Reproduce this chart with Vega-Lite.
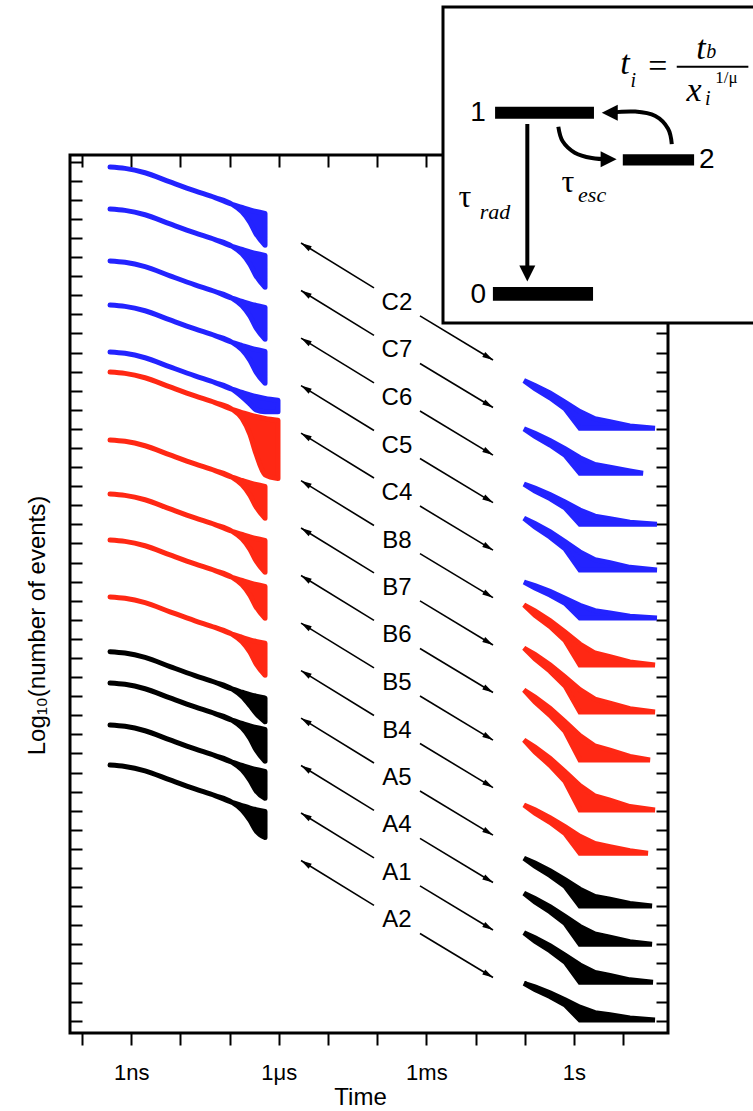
{
"$schema":"https://vega.github.io/schema/vega-lite/v6.json",
"width":598,"height":878,"autosize":"none",
"padding":{"left":70,"top":155,"right":85,"bottom":78},
"background":"white",
"config":{"view":{"stroke":"black","strokeWidth":3},"font":"Liberation Sans",
 "axis":{"domain":false,"grid":false,"tickColor":"black","tickWidth":2,"labelFont":"Liberation Sans","titleFont":"Liberation Sans","labelColor":"black","titleColor":"black","titleFontWeight":"normal"}},
"datasets":{
"left":[
{"s":"C2","g":"C","t":3.71e-10,"y":44.72,"y2":44.72},{"s":"C2","g":"C","t":7.48e-10,"y":44.65,"y2":44.65},{"s":"C2","g":"C","t":1.91e-9,"y":44.42,"y2":44.42},{"s":"C2","g":"C","t":6.15e-9,"y":43.94,"y2":43.94},{"s":"C2","g":"C","t":1.98e-8,"y":43.47,"y2":43.47},{"s":"C2","g":"C","t":5.05e-8,"y":43.12,"y2":43.12},{"s":"C2","g":"C","t":1.12e-7,"y":42.77,"y2":42.77},{"s":"C2","g":"C","t":1.79e-7,"y":42.60,"y2":42.37},{"s":"C2","g":"C","t":2.60e-7,"y":42.47,"y2":41.82},{"s":"C2","g":"C","t":3.44e-7,"y":42.39,"y2":41.22},{"s":"C2","g":"C","t":5.25e-7,"y":42.29,"y2":40.62},
{"s":"C7","g":"C","t":3.71e-10,"y":42.52,"y2":42.52},{"s":"C7","g":"C","t":7.48e-10,"y":42.45,"y2":42.45},{"s":"C7","g":"C","t":1.91e-9,"y":42.22,"y2":42.22},{"s":"C7","g":"C","t":6.15e-9,"y":41.74,"y2":41.74},{"s":"C7","g":"C","t":1.98e-8,"y":41.27,"y2":41.27},{"s":"C7","g":"C","t":5.05e-8,"y":40.92,"y2":40.92},{"s":"C7","g":"C","t":1.12e-7,"y":40.57,"y2":40.57},{"s":"C7","g":"C","t":1.79e-7,"y":40.40,"y2":40.17},{"s":"C7","g":"C","t":2.60e-7,"y":40.27,"y2":39.62},{"s":"C7","g":"C","t":3.44e-7,"y":40.19,"y2":39.02},{"s":"C7","g":"C","t":5.25e-7,"y":40.09,"y2":38.42},
{"s":"C6","g":"C","t":3.71e-10,"y":39.80,"y2":39.80},{"s":"C6","g":"C","t":7.48e-10,"y":39.73,"y2":39.73},{"s":"C6","g":"C","t":1.91e-9,"y":39.50,"y2":39.50},{"s":"C6","g":"C","t":6.15e-9,"y":39.02,"y2":39.02},{"s":"C6","g":"C","t":1.98e-8,"y":38.55,"y2":38.55},{"s":"C6","g":"C","t":5.05e-8,"y":38.20,"y2":38.20},{"s":"C6","g":"C","t":1.12e-7,"y":37.85,"y2":37.85},{"s":"C6","g":"C","t":1.79e-7,"y":37.68,"y2":37.45},{"s":"C6","g":"C","t":2.60e-7,"y":37.55,"y2":36.90},{"s":"C6","g":"C","t":3.44e-7,"y":37.47,"y2":36.30},{"s":"C6","g":"C","t":5.25e-7,"y":37.37,"y2":35.70},
{"s":"C5","g":"C","t":3.71e-10,"y":37.49,"y2":37.49},{"s":"C5","g":"C","t":7.48e-10,"y":37.42,"y2":37.42},{"s":"C5","g":"C","t":1.91e-9,"y":37.19,"y2":37.19},{"s":"C5","g":"C","t":6.15e-9,"y":36.71,"y2":36.71},{"s":"C5","g":"C","t":1.98e-8,"y":36.24,"y2":36.24},{"s":"C5","g":"C","t":5.05e-8,"y":35.89,"y2":35.89},{"s":"C5","g":"C","t":1.12e-7,"y":35.54,"y2":35.54},{"s":"C5","g":"C","t":1.79e-7,"y":35.37,"y2":35.14},{"s":"C5","g":"C","t":2.60e-7,"y":35.24,"y2":34.59},{"s":"C5","g":"C","t":3.44e-7,"y":35.16,"y2":33.99},{"s":"C5","g":"C","t":5.25e-7,"y":35.06,"y2":33.39},
{"s":"C4","g":"C","t":3.71e-10,"y":35.03,"y2":35.03},{"s":"C4","g":"C","t":7.48e-10,"y":34.96,"y2":34.96},{"s":"C4","g":"C","t":1.91e-9,"y":34.73,"y2":34.73},{"s":"C4","g":"C","t":6.15e-9,"y":34.25,"y2":34.25},{"s":"C4","g":"C","t":1.98e-8,"y":33.78,"y2":33.78},{"s":"C4","g":"C","t":5.05e-8,"y":33.43,"y2":33.43},{"s":"C4","g":"C","t":1.12e-7,"y":33.08,"y2":33.08},{"s":"C4","g":"C","t":1.79e-7,"y":32.91,"y2":32.68},{"s":"C4","g":"C","t":2.60e-7,"y":32.78,"y2":32.30},{"s":"C4","g":"C","t":3.44e-7,"y":32.70,"y2":32.00},{"s":"C4","g":"C","t":5.25e-7,"y":32.60,"y2":31.90},{"s":"C4","g":"C","t":9.63e-7,"y":32.50,"y2":31.90},
{"s":"B8","g":"B","t":3.71e-10,"y":33.98,"y2":33.98},{"s":"B8","g":"B","t":7.48e-10,"y":33.91,"y2":33.91},{"s":"B8","g":"B","t":1.91e-9,"y":33.68,"y2":33.68},{"s":"B8","g":"B","t":6.15e-9,"y":33.20,"y2":33.20},{"s":"B8","g":"B","t":1.98e-8,"y":32.73,"y2":32.73},{"s":"B8","g":"B","t":5.05e-8,"y":32.38,"y2":32.38},{"s":"B8","g":"B","t":1.12e-7,"y":32.03,"y2":32.03},{"s":"B8","g":"B","t":1.79e-7,"y":31.86,"y2":31.55},{"s":"B8","g":"B","t":2.60e-7,"y":31.73,"y2":30.70},{"s":"B8","g":"B","t":3.44e-7,"y":31.65,"y2":29.70},{"s":"B8","g":"B","t":5.25e-7,"y":31.55,"y2":28.60},{"s":"B8","g":"B","t":9.63e-7,"y":31.45,"y2":28.40},
{"s":"B7","g":"B","t":3.71e-10,"y":30.42,"y2":30.42},{"s":"B7","g":"B","t":7.48e-10,"y":30.35,"y2":30.35},{"s":"B7","g":"B","t":1.91e-9,"y":30.12,"y2":30.12},{"s":"B7","g":"B","t":6.15e-9,"y":29.64,"y2":29.64},{"s":"B7","g":"B","t":1.98e-8,"y":29.17,"y2":29.17},{"s":"B7","g":"B","t":5.05e-8,"y":28.82,"y2":28.82},{"s":"B7","g":"B","t":1.12e-7,"y":28.47,"y2":28.47},{"s":"B7","g":"B","t":1.79e-7,"y":28.30,"y2":28.07},{"s":"B7","g":"B","t":2.60e-7,"y":28.17,"y2":27.52},{"s":"B7","g":"B","t":3.44e-7,"y":28.09,"y2":26.92},{"s":"B7","g":"B","t":5.25e-7,"y":27.99,"y2":26.32},
{"s":"B6","g":"B","t":3.71e-10,"y":27.59,"y2":27.59},{"s":"B6","g":"B","t":7.48e-10,"y":27.52,"y2":27.52},{"s":"B6","g":"B","t":1.91e-9,"y":27.29,"y2":27.29},{"s":"B6","g":"B","t":6.15e-9,"y":26.81,"y2":26.81},{"s":"B6","g":"B","t":1.98e-8,"y":26.34,"y2":26.34},{"s":"B6","g":"B","t":5.05e-8,"y":25.99,"y2":25.99},{"s":"B6","g":"B","t":1.12e-7,"y":25.64,"y2":25.64},{"s":"B6","g":"B","t":1.79e-7,"y":25.47,"y2":25.24},{"s":"B6","g":"B","t":2.60e-7,"y":25.34,"y2":24.69},{"s":"B6","g":"B","t":3.44e-7,"y":25.26,"y2":24.09},{"s":"B6","g":"B","t":5.25e-7,"y":25.16,"y2":23.49},
{"s":"B5","g":"B","t":3.71e-10,"y":25.18,"y2":25.18},{"s":"B5","g":"B","t":7.48e-10,"y":25.11,"y2":25.11},{"s":"B5","g":"B","t":1.91e-9,"y":24.88,"y2":24.88},{"s":"B5","g":"B","t":6.15e-9,"y":24.40,"y2":24.40},{"s":"B5","g":"B","t":1.98e-8,"y":23.93,"y2":23.93},{"s":"B5","g":"B","t":5.05e-8,"y":23.58,"y2":23.58},{"s":"B5","g":"B","t":1.12e-7,"y":23.23,"y2":23.23},{"s":"B5","g":"B","t":1.79e-7,"y":23.06,"y2":22.83},{"s":"B5","g":"B","t":2.60e-7,"y":22.93,"y2":22.28},{"s":"B5","g":"B","t":3.44e-7,"y":22.85,"y2":21.68},{"s":"B5","g":"B","t":5.25e-7,"y":22.75,"y2":21.08},
{"s":"B4","g":"B","t":3.71e-10,"y":22.20,"y2":22.20},{"s":"B4","g":"B","t":7.48e-10,"y":22.13,"y2":22.13},{"s":"B4","g":"B","t":1.91e-9,"y":21.90,"y2":21.90},{"s":"B4","g":"B","t":6.15e-9,"y":21.42,"y2":21.42},{"s":"B4","g":"B","t":1.98e-8,"y":20.95,"y2":20.95},{"s":"B4","g":"B","t":5.05e-8,"y":20.60,"y2":20.60},{"s":"B4","g":"B","t":1.12e-7,"y":20.25,"y2":20.25},{"s":"B4","g":"B","t":1.79e-7,"y":20.08,"y2":19.85},{"s":"B4","g":"B","t":2.60e-7,"y":19.95,"y2":19.30},{"s":"B4","g":"B","t":3.44e-7,"y":19.87,"y2":18.70},{"s":"B4","g":"B","t":5.25e-7,"y":19.77,"y2":18.10},
{"s":"A5","g":"A","t":3.71e-10,"y":19.33,"y2":19.33},{"s":"A5","g":"A","t":7.48e-10,"y":19.26,"y2":19.26},{"s":"A5","g":"A","t":1.91e-9,"y":19.03,"y2":19.03},{"s":"A5","g":"A","t":6.15e-9,"y":18.55,"y2":18.55},{"s":"A5","g":"A","t":1.98e-8,"y":18.08,"y2":18.08},{"s":"A5","g":"A","t":5.05e-8,"y":17.73,"y2":17.73},{"s":"A5","g":"A","t":1.12e-7,"y":17.38,"y2":17.38},{"s":"A5","g":"A","t":1.79e-7,"y":17.21,"y2":16.98},{"s":"A5","g":"A","t":2.60e-7,"y":17.08,"y2":16.50},{"s":"A5","g":"A","t":3.44e-7,"y":17.00,"y2":16.10},{"s":"A5","g":"A","t":5.25e-7,"y":16.90,"y2":15.66},
{"s":"A4","g":"A","t":3.71e-10,"y":17.69,"y2":17.69},{"s":"A4","g":"A","t":7.48e-10,"y":17.62,"y2":17.62},{"s":"A4","g":"A","t":1.91e-9,"y":17.39,"y2":17.39},{"s":"A4","g":"A","t":6.15e-9,"y":16.91,"y2":16.91},{"s":"A4","g":"A","t":1.98e-8,"y":16.44,"y2":16.44},{"s":"A4","g":"A","t":5.05e-8,"y":16.09,"y2":16.09},{"s":"A4","g":"A","t":1.12e-7,"y":15.74,"y2":15.74},{"s":"A4","g":"A","t":1.79e-7,"y":15.57,"y2":15.34},{"s":"A4","g":"A","t":2.60e-7,"y":15.44,"y2":14.79},{"s":"A4","g":"A","t":3.44e-7,"y":15.36,"y2":14.19},{"s":"A4","g":"A","t":5.25e-7,"y":15.26,"y2":13.59},
{"s":"A1","g":"A","t":3.71e-10,"y":15.49,"y2":15.49},{"s":"A1","g":"A","t":7.48e-10,"y":15.42,"y2":15.42},{"s":"A1","g":"A","t":1.91e-9,"y":15.19,"y2":15.19},{"s":"A1","g":"A","t":6.15e-9,"y":14.71,"y2":14.71},{"s":"A1","g":"A","t":1.98e-8,"y":14.24,"y2":14.24},{"s":"A1","g":"A","t":5.05e-8,"y":13.89,"y2":13.89},{"s":"A1","g":"A","t":1.12e-7,"y":13.54,"y2":13.54},{"s":"A1","g":"A","t":1.79e-7,"y":13.37,"y2":13.14},{"s":"A1","g":"A","t":2.60e-7,"y":13.24,"y2":12.59},{"s":"A1","g":"A","t":3.44e-7,"y":13.16,"y2":12.05},{"s":"A1","g":"A","t":5.25e-7,"y":13.06,"y2":11.65},
{"s":"A2","g":"A","t":3.71e-10,"y":13.39,"y2":13.39},{"s":"A2","g":"A","t":7.48e-10,"y":13.32,"y2":13.32},{"s":"A2","g":"A","t":1.91e-9,"y":13.09,"y2":13.09},{"s":"A2","g":"A","t":6.15e-9,"y":12.61,"y2":12.61},{"s":"A2","g":"A","t":1.98e-8,"y":12.14,"y2":12.14},{"s":"A2","g":"A","t":5.05e-8,"y":11.79,"y2":11.79},{"s":"A2","g":"A","t":1.12e-7,"y":11.44,"y2":11.44},{"s":"A2","g":"A","t":1.79e-7,"y":11.27,"y2":11.04},{"s":"A2","g":"A","t":2.60e-7,"y":11.14,"y2":10.49},{"s":"A2","g":"A","t":3.44e-7,"y":11.06,"y2":9.95},{"s":"A2","g":"A","t":5.25e-7,"y":10.96,"y2":9.60}
],
"right":[
{"s":"C2","g":"C","t":0.0964,"y":33.53,"y2":33.53},{"s":"C2","g":"C","t":0.161,"y":33.28,"y2":33.11},{"s":"C2","g":"C","t":0.325,"y":32.88,"y2":32.63},{"s":"C2","g":"C","t":0.656,"y":32.41,"y2":32.06},{"s":"C2","g":"C","t":1.32,"y":31.91,"y2":31.03},{"s":"C2","g":"C","t":2.67,"y":31.53,"y2":31.03},{"s":"C2","g":"C","t":5.39,"y":31.38,"y2":31.03},{"s":"C2","g":"C","t":13.7,"y":31.16,"y2":31.03},{"s":"C2","g":"C","t":44.3,"y":31.03,"y2":31.03},
{"s":"C7","g":"C","t":0.0964,"y":31.00,"y2":31.00},{"s":"C7","g":"C","t":0.161,"y":30.77,"y2":30.61},{"s":"C7","g":"C","t":0.325,"y":30.40,"y2":30.16},{"s":"C7","g":"C","t":0.656,"y":29.96,"y2":29.63},{"s":"C7","g":"C","t":1.32,"y":29.49,"y2":28.68},{"s":"C7","g":"C","t":2.67,"y":29.14,"y2":28.68},{"s":"C7","g":"C","t":5.39,"y":29.00,"y2":28.68},{"s":"C7","g":"C","t":13.7,"y":28.80,"y2":28.68},{"s":"C7","g":"C","t":25.3,"y":28.68,"y2":28.68},
{"s":"C6","g":"C","t":0.0964,"y":28.11,"y2":28.11},{"s":"C6","g":"C","t":0.161,"y":27.90,"y2":27.75},{"s":"C6","g":"C","t":0.325,"y":27.56,"y2":27.35},{"s":"C6","g":"C","t":0.656,"y":27.17,"y2":26.87},{"s":"C6","g":"C","t":1.32,"y":26.75,"y2":26.01},{"s":"C6","g":"C","t":2.67,"y":26.43,"y2":26.01},{"s":"C6","g":"C","t":5.39,"y":26.30,"y2":26.01},{"s":"C6","g":"C","t":13.7,"y":26.11,"y2":26.01},{"s":"C6","g":"C","t":48.6,"y":26.01,"y2":26.01},
{"s":"C5","g":"C","t":0.0964,"y":26.32,"y2":26.32},{"s":"C5","g":"C","t":0.161,"y":26.05,"y2":25.86},{"s":"C5","g":"C","t":0.325,"y":25.62,"y2":25.34},{"s":"C5","g":"C","t":0.656,"y":25.10,"y2":24.72},{"s":"C5","g":"C","t":1.32,"y":24.56,"y2":23.61},{"s":"C5","g":"C","t":2.67,"y":24.15,"y2":23.61},{"s":"C5","g":"C","t":5.39,"y":23.99,"y2":23.61},{"s":"C5","g":"C","t":13.7,"y":23.75,"y2":23.61},{"s":"C5","g":"C","t":48.6,"y":23.61,"y2":23.61},
{"s":"C4","g":"C","t":0.0964,"y":22.98,"y2":22.98},{"s":"C4","g":"C","t":0.161,"y":22.79,"y2":22.66},{"s":"C4","g":"C","t":0.325,"y":22.49,"y2":22.30},{"s":"C4","g":"C","t":0.656,"y":22.13,"y2":21.87},{"s":"C4","g":"C","t":1.32,"y":21.76,"y2":21.10},{"s":"C4","g":"C","t":2.67,"y":21.48,"y2":21.10},{"s":"C4","g":"C","t":5.39,"y":21.36,"y2":21.10},{"s":"C4","g":"C","t":13.7,"y":21.19,"y2":21.10},{"s":"C4","g":"C","t":48.6,"y":21.10,"y2":21.10},
{"s":"B8","g":"B","t":0.0964,"y":21.78,"y2":21.78},{"s":"B8","g":"B","t":0.161,"y":21.47,"y2":21.24},{"s":"B8","g":"B","t":0.325,"y":20.96,"y2":20.65},{"s":"B8","g":"B","t":0.656,"y":20.36,"y2":19.92},{"s":"B8","g":"B","t":1.32,"y":19.73,"y2":18.63},{"s":"B8","g":"B","t":2.67,"y":19.26,"y2":18.63},{"s":"B8","g":"B","t":5.39,"y":19.07,"y2":18.63},{"s":"B8","g":"B","t":13.7,"y":18.79,"y2":18.63},{"s":"B8","g":"B","t":44.3,"y":18.63,"y2":18.63},
{"s":"B7","g":"B","t":0.0964,"y":19.52,"y2":19.52},{"s":"B7","g":"B","t":0.161,"y":19.19,"y2":18.95},{"s":"B7","g":"B","t":0.325,"y":18.65,"y2":18.31},{"s":"B7","g":"B","t":0.656,"y":18.01,"y2":17.54},{"s":"B7","g":"B","t":1.32,"y":17.34,"y2":16.17},{"s":"B7","g":"B","t":2.67,"y":16.84,"y2":16.17},{"s":"B7","g":"B","t":5.39,"y":16.64,"y2":16.17},{"s":"B7","g":"B","t":13.7,"y":16.34,"y2":16.17},{"s":"B7","g":"B","t":44.3,"y":16.17,"y2":16.17},
{"s":"B6","g":"B","t":0.0964,"y":17.32,"y2":17.32},{"s":"B6","g":"B","t":0.161,"y":16.95,"y2":16.70},{"s":"B6","g":"B","t":0.325,"y":16.37,"y2":16.00},{"s":"B6","g":"B","t":0.656,"y":15.67,"y2":15.16},{"s":"B6","g":"B","t":1.32,"y":14.94,"y2":13.66},{"s":"B6","g":"B","t":2.67,"y":14.39,"y2":13.66},{"s":"B6","g":"B","t":5.39,"y":14.17,"y2":13.66},{"s":"B6","g":"B","t":13.7,"y":13.84,"y2":13.66},{"s":"B6","g":"B","t":35.1,"y":13.66,"y2":13.66},
{"s":"B5","g":"B","t":0.0964,"y":14.70,"y2":14.70},{"s":"B5","g":"B","t":0.161,"y":14.33,"y2":14.08},{"s":"B5","g":"B","t":0.325,"y":13.75,"y2":13.38},{"s":"B5","g":"B","t":0.656,"y":13.05,"y2":12.54},{"s":"B5","g":"B","t":1.32,"y":12.32,"y2":11.04},{"s":"B5","g":"B","t":2.67,"y":11.77,"y2":11.04},{"s":"B5","g":"B","t":5.39,"y":11.55,"y2":11.04},{"s":"B5","g":"B","t":13.7,"y":11.22,"y2":11.04},{"s":"B5","g":"B","t":44.3,"y":11.04,"y2":11.04},
{"s":"B4","g":"B","t":0.0964,"y":11.30,"y2":11.30},{"s":"B4","g":"B","t":0.161,"y":11.05,"y2":10.87},{"s":"B4","g":"B","t":0.325,"y":10.64,"y2":10.39},{"s":"B4","g":"B","t":0.656,"y":10.16,"y2":9.81},{"s":"B4","g":"B","t":1.32,"y":9.66,"y2":8.77},{"s":"B4","g":"B","t":2.67,"y":9.28,"y2":8.77},{"s":"B4","g":"B","t":5.39,"y":9.12,"y2":8.77},{"s":"B4","g":"B","t":13.7,"y":8.90,"y2":8.77},{"s":"B4","g":"B","t":31.9,"y":8.77,"y2":8.77},
{"s":"A5","g":"A","t":0.0964,"y":8.51,"y2":8.51},{"s":"A5","g":"A","t":0.161,"y":8.26,"y2":8.09},{"s":"A5","g":"A","t":0.325,"y":7.86,"y2":7.61},{"s":"A5","g":"A","t":0.656,"y":7.39,"y2":7.04},{"s":"A5","g":"A","t":1.32,"y":6.89,"y2":6.01},{"s":"A5","g":"A","t":2.67,"y":6.51,"y2":6.01},{"s":"A5","g":"A","t":5.39,"y":6.36,"y2":6.01},{"s":"A5","g":"A","t":13.7,"y":6.14,"y2":6.01},{"s":"A5","g":"A","t":38.5,"y":6.01,"y2":6.01},
{"s":"A4","g":"A","t":0.0964,"y":6.67,"y2":6.67},{"s":"A4","g":"A","t":0.161,"y":6.40,"y2":6.22},{"s":"A4","g":"A","t":0.325,"y":5.98,"y2":5.71},{"s":"A4","g":"A","t":0.656,"y":5.47,"y2":5.10},{"s":"A4","g":"A","t":1.32,"y":4.94,"y2":4.01},{"s":"A4","g":"A","t":2.67,"y":4.54,"y2":4.01},{"s":"A4","g":"A","t":5.39,"y":4.38,"y2":4.01},{"s":"A4","g":"A","t":13.7,"y":4.14,"y2":4.01},{"s":"A4","g":"A","t":38.5,"y":4.01,"y2":4.01},
{"s":"A1","g":"A","t":0.0964,"y":4.61,"y2":4.61},{"s":"A1","g":"A","t":0.161,"y":4.35,"y2":4.17},{"s":"A1","g":"A","t":0.325,"y":3.93,"y2":3.67},{"s":"A1","g":"A","t":0.656,"y":3.44,"y2":3.08},{"s":"A1","g":"A","t":1.32,"y":2.92,"y2":2.01},{"s":"A1","g":"A","t":2.67,"y":2.53,"y2":2.01},{"s":"A1","g":"A","t":5.39,"y":2.37,"y2":2.01},{"s":"A1","g":"A","t":13.7,"y":2.14,"y2":2.01},{"s":"A1","g":"A","t":40.3,"y":2.01,"y2":2.01},
{"s":"A2","g":"A","t":0.0964,"y":1.96,"y2":1.96},{"s":"A2","g":"A","t":0.161,"y":1.77,"y2":1.63},{"s":"A2","g":"A","t":0.325,"y":1.46,"y2":1.27},{"s":"A2","g":"A","t":0.656,"y":1.10,"y2":0.83},{"s":"A2","g":"A","t":1.32,"y":0.71,"y2":0.04},{"s":"A2","g":"A","t":2.67,"y":0.42,"y2":0.04},{"s":"A2","g":"A","t":5.39,"y":0.31,"y2":0.04},{"s":"A2","g":"A","t":13.7,"y":0.14,"y2":0.04},{"s":"A2","g":"A","t":44.3,"y":0.04,"y2":0.04}
],
"labels":[
{"s":"C2","t":2.52e-4,"y":37.60},{"s":"C7","t":2.52e-4,"y":35.11},{"s":"C6","t":2.52e-4,"y":32.62},{"s":"C5","t":2.52e-4,"y":30.13},{"s":"C4","t":2.52e-4,"y":27.64},{"s":"B8","t":2.52e-4,"y":25.15},{"s":"B7","t":2.52e-4,"y":22.67},{"s":"B6","t":2.52e-4,"y":20.18},{"s":"B5","t":2.52e-4,"y":17.69},{"s":"B4","t":2.52e-4,"y":15.20},{"s":"A5","t":2.52e-4,"y":12.71},{"s":"A4","t":2.52e-4,"y":10.23},{"s":"A1","t":2.52e-4,"y":7.74},{"s":"A2","t":2.52e-4,"y":5.25}
],
"arrows":[
{"d":"L","t":8.61e-5,"y":38.39,"t2":2.83e-6,"y2":40.74},{"d":"R","t":7.41e-4,"y":36.92,"t2":0.0226,"y2":34.61},
{"d":"L","t":8.61e-5,"y":35.90,"t2":2.83e-6,"y2":38.25},{"d":"R","t":7.41e-4,"y":34.43,"t2":0.0226,"y2":32.12},
{"d":"L","t":8.61e-5,"y":33.41,"t2":2.83e-6,"y2":35.76},{"d":"R","t":7.41e-4,"y":31.94,"t2":0.0226,"y2":29.63},
{"d":"L","t":8.61e-5,"y":30.92,"t2":2.83e-6,"y2":33.27},{"d":"R","t":7.41e-4,"y":29.45,"t2":0.0226,"y2":27.14},
{"d":"L","t":8.61e-5,"y":28.43,"t2":2.83e-6,"y2":30.78},{"d":"R","t":7.41e-4,"y":26.96,"t2":0.0226,"y2":24.65},
{"d":"L","t":8.61e-5,"y":25.94,"t2":2.83e-6,"y2":28.29},{"d":"R","t":7.41e-4,"y":24.47,"t2":0.0226,"y2":22.16},
{"d":"L","t":8.61e-5,"y":23.46,"t2":2.83e-6,"y2":25.81},{"d":"R","t":7.41e-4,"y":21.99,"t2":0.0226,"y2":19.68},
{"d":"L","t":8.61e-5,"y":20.97,"t2":2.83e-6,"y2":23.32},{"d":"R","t":7.41e-4,"y":19.50,"t2":0.0226,"y2":17.19},
{"d":"L","t":8.61e-5,"y":18.48,"t2":2.83e-6,"y2":20.83},{"d":"R","t":7.41e-4,"y":17.01,"t2":0.0226,"y2":14.70},
{"d":"L","t":8.61e-5,"y":15.99,"t2":2.83e-6,"y2":18.34},{"d":"R","t":7.41e-4,"y":14.52,"t2":0.0226,"y2":12.21},
{"d":"L","t":8.61e-5,"y":13.50,"t2":2.83e-6,"y2":15.85},{"d":"R","t":7.41e-4,"y":12.03,"t2":0.0226,"y2":9.72},
{"d":"L","t":8.61e-5,"y":11.02,"t2":2.83e-6,"y2":13.37},{"d":"R","t":7.41e-4,"y":9.55,"t2":0.0226,"y2":7.24},
{"d":"L","t":8.61e-5,"y":8.53,"t2":2.83e-6,"y2":10.88},{"d":"R","t":7.41e-4,"y":7.06,"t2":0.0226,"y2":4.75},
{"d":"L","t":8.61e-5,"y":6.04,"t2":2.83e-6,"y2":8.39},{"d":"R","t":7.41e-4,"y":4.57,"t2":0.0226,"y2":2.26}
],
"box":[{"u":0,"u2":101,"v":0,"v2":100}],
"bars":[{"u":16.8,"u2":48.7,"v":64.6,"v2":68.4},{"u":58.0,"u2":81.0,"v":49.8,"v2":53.4},{"u":16.1,"u2":48.4,"v":7.0,"v2":11.4},{"u":75.4,"u2":98.5,"v":80.8,"v2":81.4}],
"ilines":[
{"a":"rad","i":0,"u":27.2,"v":63.0},{"a":"rad","i":1,"u":27.2,"v":16.0},
{"a":"esc","i":0,"u":37.2,"v":62.1},{"a":"esc","i":1,"u":38.6,"v":57.5},{"a":"esc","i":2,"u":42.5,"v":53.9},{"a":"esc","i":3,"u":48.0,"v":52.2},{"a":"esc","i":4,"u":53.5,"v":51.8},
{"a":"back","i":0,"u":73.8,"v":56.6},{"a":"back","i":1,"u":72.6,"v":61.5},{"a":"back","i":2,"u":68.5,"v":65.5},{"a":"back","i":3,"u":62.0,"v":66.9},{"a":"back","i":4,"u":54.0,"v":66.6}
],
"heads":[{"d":"down","u":27.2,"v":13.1},{"d":"right","u":56.0,"v":51.8},{"d":"left","u":51.2,"v":66.5}],
"itext":[
{"r":"num","txt":"1","u":11.3,"v":66.5},{"r":"num","txt":"2","u":85.1,"v":51.6},{"r":"num","txt":"0","u":11.4,"v":8.9},
{"r":"tau","txt":"τ","u":7.1,"v":40.0},{"r":"tau","txt":"τ","u":40.3,"v":44.7},
{"r":"sub","txt":"rad","u":16.8,"v":35.2},{"r":"sub","txt":"esc","u":48.1,"v":40.5},
{"r":"eq","txt":"t","u":58.7,"v":82.0},{"r":"eq","txt":"=","u":69.2,"v":81.1},{"r":"eq","txt":"t","u":83.2,"v":86.6},{"r":"eq","txt":"x","u":81.0,"v":73.5},
{"r":"eqs","txt":"i","u":61.4,"v":76.5},{"r":"eqs","txt":"b","u":86.5,"v":85.9},{"r":"eqs","txt":"i","u":85.4,"v":70.9},
{"r":"sup","txt":"1/μ","u":91.4,"v":77.6}
]
},
"resolve":{"scale":{"x":"independent","y":"independent"}},
"layer":[
{
"encoding":{
 "x":{"field":"t","type":"quantitative","scale":{"type":"log","domain":[5.7e-11,81.5],"nice":false},"axis":null},
 "y":{"field":"y","type":"quantitative","stack":null,"scale":{"domain":[-0.645,45.35],"nice":false,"zero":false},"axis":null}
},
"layer":[
 {"data":{"name":"left"},"mark":{"type":"area","strokeWidth":5,"strokeJoin":"round","interpolate":"monotone"},
  "encoding":{"y2":{"field":"y2"},"detail":{"field":"s"},
   "color":{"field":"g","type":"nominal","scale":{"domain":["A","B","C"],"range":["#000000","#ff2814","#2323ff"]},"legend":null},
   "stroke":{"field":"g","type":"nominal","scale":{"domain":["A","B","C"],"range":["#000000","#ff2814","#2323ff"]},"legend":null}}},
 {"data":{"name":"right"},"mark":{"type":"area","strokeWidth":5,"strokeJoin":"miter"},
  "encoding":{"y2":{"field":"y2"},"detail":{"field":"s"},
   "color":{"field":"g","type":"nominal","scale":{"domain":["A","B","C"],"range":["#000000","#ff2814","#2323ff"]},"legend":null},
   "stroke":{"field":"g","type":"nominal","scale":{"domain":["A","B","C"],"range":["#000000","#ff2814","#2323ff"]},"legend":null}}},
 {"data":{"name":"arrows"},"mark":{"type":"rule","strokeWidth":1.6,"color":"black"},
  "encoding":{"x2":{"field":"t2"},"y2":{"field":"y2"}}},
 {"data":{"name":"arrows"},"transform":[{"filter":"datum.d == 'L'"}],
  "mark":{"type":"point","filled":true,"color":"black","opacity":1,"strokeWidth":0,"shape":"M0,0L0.65,2.4L-0.65,2.4Z","size":81,"angle":301.7},
  "encoding":{"x":{"field":"t2","type":"quantitative","scale":{"type":"log","domain":[5.7e-11,81.5],"nice":false},"axis":null},
   "y":{"field":"y2","type":"quantitative","scale":{"domain":[-0.645,45.35],"nice":false,"zero":false},"axis":null}}},
 {"data":{"name":"arrows"},"transform":[{"filter":"datum.d == 'R'"}],
  "mark":{"type":"point","filled":true,"color":"black","opacity":1,"strokeWidth":0,"shape":"M0,0L0.65,2.4L-0.65,2.4Z","size":81,"angle":121},
  "encoding":{"x":{"field":"t2","type":"quantitative","scale":{"type":"log","domain":[5.7e-11,81.5],"nice":false},"axis":null},
   "y":{"field":"y2","type":"quantitative","scale":{"domain":[-0.645,45.35],"nice":false,"zero":false},"axis":null}}},
 {"data":{"name":"labels"},"mark":{"type":"text","fontSize":24,"font":"Liberation Sans","align":"center","baseline":"middle","color":"black"},
  "encoding":{"text":{"field":"s"}}}
]
},
{
"data":{"name":"labels"},
"mark":{"type":"point","opacity":0},
"encoding":{
 "x":{"field":"t","type":"quantitative","scale":{"type":"log","domain":[5.7e-11,81.5],"nice":false},
  "axis":{"orient":"bottom","values":[1e-10,1e-9,1e-8,1e-7,1e-6,1e-5,1e-4,1e-3,1e-2,1e-1,1,10],"tickSize":12,"labelFontSize":22,"labelPadding":17,"labelOverlap":false,"labelFlush":false,
   "labelExpr":"datum.value > 5e-10 && datum.value < 5e-9 ? '1ns' : (datum.value > 5e-7 && datum.value < 5e-6 ? '1μs' : (datum.value > 5e-4 && datum.value < 5e-3 ? '1ms' : (datum.value > 0.5 && datum.value < 5 ? '1s' : '')))",
   "title":"Time","titleFontSize":24,"titleX":290,"titleY":64,"titleBaseline":"middle","titleAlign":"center"}},
 "y":{"field":"y","type":"quantitative","scale":{"domain":[-0.645,45.35],"nice":false,"zero":false},
  "axis":{"orient":"left","values":[0,1,2,3,4,5,6,7,8,9,10,11,12,13,14,15,16,17,18,19,20,21,22,23,24,25,26,27,28,29,30,31,32,33,34,35,36,37,38,39,40,41,42,43,44,45],"tickSize":-12,"labels":false,
   "title":"Log₁₀(number of events)","titleFontSize":24,"titleX":-33,"titleY":470,"titleAngle":270,"titleBaseline":"middle","titleAlign":"center"}}
}
},
{
"data":{"name":"labels"},
"mark":{"type":"point","opacity":0},
"encoding":{
 "x":{"field":"t","type":"quantitative","scale":{"type":"log","domain":[5.7e-11,81.5],"nice":false},
  "axis":{"orient":"top","values":[1e-10,1e-9,1e-8,1e-7,1e-6,1e-5,1e-4,1e-3,1e-2,1e-1,1,10],"tickSize":-12,"labels":false,"title":null}},
 "y":{"field":"y","type":"quantitative","scale":{"domain":[-0.645,45.35],"nice":false,"zero":false},
  "axis":{"orient":"right","values":[0,1,2,3,4,5,6,7,8,9,10,11,12,13,14,15,16,17,18,19,20,21,22,23,24,25,26,27,28,29,30,31,32,33,34,35,36,37,38,39,40,41,42,43,44,45],"tickSize":-12,"labels":false,"title":null}}
}
},
{
"encoding":{
 "x":{"field":"u","type":"quantitative","scale":{"domain":[-120.32,72.58],"nice":false,"zero":false},"axis":null},
 "y":{"field":"v","type":"quantitative","scale":{"domain":[-224.68,53.16],"nice":false,"zero":false},"axis":null}
},
"layer":[
 {"data":{"name":"box"},"mark":{"type":"rect","fill":"white","stroke":"black","strokeWidth":3},"encoding":{"x2":{"field":"u2"},"y2":{"field":"v2"}}},
 {"data":{"name":"bars"},"mark":{"type":"rect","fill":"black"},"encoding":{"x2":{"field":"u2"},"y2":{"field":"v2"}}},
 {"data":{"name":"ilines"},"mark":{"type":"line","color":"black","strokeWidth":4,"interpolate":"cardinal","strokeCap":"butt"},"encoding":{"detail":{"field":"a"},"order":{"field":"i","type":"quantitative"}}},
 {"data":{"name":"heads"},"transform":[{"filter":"datum.d == 'down'"}],"mark":{"type":"point","filled":true,"color":"black","opacity":1,"strokeWidth":0,"shape":"M0,0L1,2L-1,2Z","size":256,"angle":180}},
 {"data":{"name":"heads"},"transform":[{"filter":"datum.d == 'right'"}],"mark":{"type":"point","filled":true,"color":"black","opacity":1,"strokeWidth":0,"shape":"M0,0L1,2L-1,2Z","size":256,"angle":90}},
 {"data":{"name":"heads"},"transform":[{"filter":"datum.d == 'left'"}],"mark":{"type":"point","filled":true,"color":"black","opacity":1,"strokeWidth":0,"shape":"M0,0L1,2L-1,2Z","size":256,"angle":270}},
 {"data":{"name":"itext"},"transform":[{"filter":"datum.r == 'num'"}],"mark":{"type":"text","font":"Liberation Sans","fontSize":28,"align":"center","baseline":"middle","color":"black"},"encoding":{"text":{"field":"txt"}}},
 {"data":{"name":"itext"},"transform":[{"filter":"datum.r == 'tau'"}],"mark":{"type":"text","font":"Liberation Serif","fontSize":32,"align":"center","baseline":"middle","color":"black"},"encoding":{"text":{"field":"txt"}}},
 {"data":{"name":"itext"},"transform":[{"filter":"datum.r == 'sub'"}],"mark":{"type":"text","font":"Liberation Serif","fontStyle":"italic","fontSize":22,"align":"center","baseline":"middle","color":"black"},"encoding":{"text":{"field":"txt"}}},
 {"data":{"name":"itext"},"transform":[{"filter":"datum.r == 'eq'"}],"mark":{"type":"text","font":"Liberation Serif","fontStyle":"italic","fontSize":34,"align":"center","baseline":"middle","color":"black"},"encoding":{"text":{"field":"txt"}}},
 {"data":{"name":"itext"},"transform":[{"filter":"datum.r == 'eqs'"}],"mark":{"type":"text","font":"Liberation Serif","fontStyle":"italic","fontSize":20,"align":"center","baseline":"middle","color":"black"},"encoding":{"text":{"field":"txt"}}},
 {"data":{"name":"itext"},"transform":[{"filter":"datum.r == 'sup'"}],"mark":{"type":"text","font":"Liberation Serif","fontSize":17,"align":"center","baseline":"middle","color":"black"},"encoding":{"text":{"field":"txt"}}}
]
}
]
}
